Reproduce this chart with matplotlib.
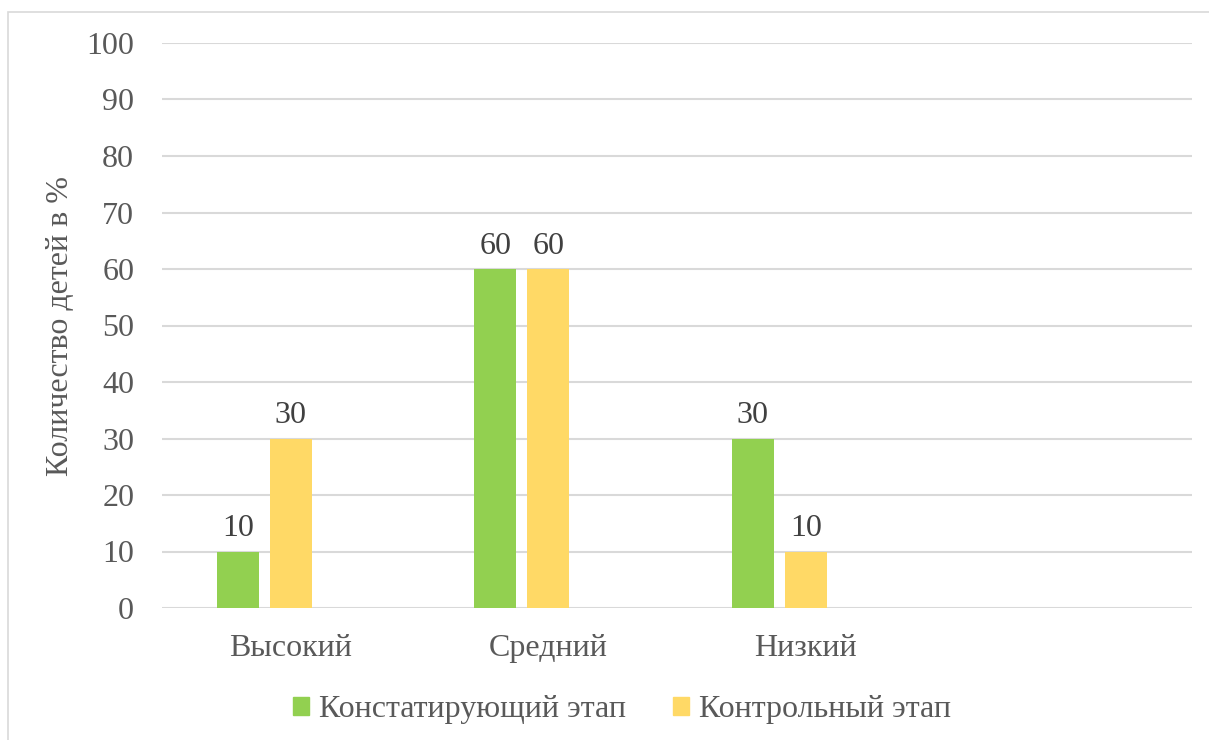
import numpy as np
import matplotlib.pyplot as plt
from matplotlib.patches import Rectangle, Patch

# data
categories = ['Высокий', 'Средний', 'Низкий', '']
konst = [10, 60, 30, None]
kontr = [30, 60, 10, None]
series_names = ['Констатирующий этап', 'Контрольный этап']
yticks = [0, 10, 20, 30, 40, 50, 60, 70, 80, 90, 100]

green = '#92D050'
yellow = '#FFD966'
grey = '#595959'

plt.rcParams['font.family'] = ['Liberation Serif', 'DejaVu Serif']

fig = plt.figure(figsize=(12.09, 7.4), dpi=100)
ax = fig.add_axes([162 / 1209, 1 - 608 / 740, 1030 / 1209, 565 / 740])

# outer chart border like in Excel
fig.patches.append(Rectangle((8 / 1209, -0.1), 1.2, 1 - 12 / 740 + 0.1,
                             transform=fig.transFigure, fill=False,
                             edgecolor='#D9D9D9', linewidth=1.2))

x = np.arange(len(categories))
w = 0.163
off = 0.206

for vals, dx, col in [(konst, -off, green), (kontr, 0, yellow)]:
    for xi, v in zip(x, vals):
        if v is None:
            continue
        ax.bar(xi + dx, v, width=w, color=col, zorder=3)
        ax.annotate(str(v), (xi + dx, v), xytext=(0, 6), textcoords='offset points',
                    ha='center', va='bottom', fontsize=23, color='#404040')

ax.set_xlim(-0.5, len(categories) - 0.5)
ax.set_ylim(0, 100)
ax.set_yticks(yticks)
ax.set_xticks(x[:3])
ax.set_xticklabels(categories[:3])
ax.tick_params(axis='both', length=0, labelsize=23, colors=grey)
ax.tick_params(axis='y', pad=20)
ax.tick_params(axis='x', pad=19)
ax.grid(axis='y', color='#D9D9D9', linewidth=1.5, zorder=0)
for s in ax.spines.values():
    s.set_visible(False)

ax.set_ylabel('Количество детей в %', fontsize=23, color=grey, labelpad=8)

handles = [Patch(color=green), Patch(color=yellow)]
fig.legend(handles, series_names, loc='center', bbox_to_anchor=(622 / 1209, 1 - 710 / 740),
           ncol=2, frameon=False, fontsize=23, labelcolor=grey,
           handlelength=0.5, handleheight=0.5, handletextpad=0.3, columnspacing=1.5)

fig.savefig('out.png', dpi=100)
